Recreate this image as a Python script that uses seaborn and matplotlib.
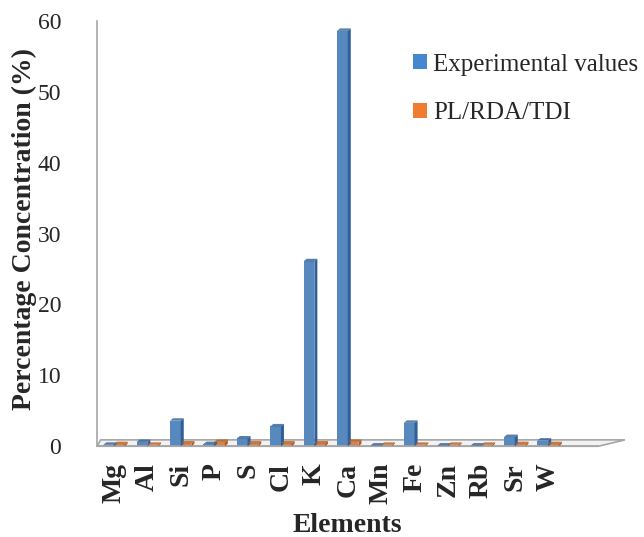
import numpy as np
import pandas as pd
import matplotlib
matplotlib.use("Agg")
import matplotlib.pyplot as plt
import seaborn as sns
from matplotlib.patches import Polygon, Patch

elements = ["Mg", "Al", "Si", "P", "S", "Cl", "K", "Ca", "Mn", "Fe", "Zn", "Rb", "Sr", "W", " "]
experimental = [0.2, 0.6, 3.6, 0.3, 1.1, 2.8, 26.1, 58.6, 0.1, 3.3, 0.1, 0.1, 1.3, 0.8, np.nan]
pl_rda_tdi = [0.3, 0.2, 0.4, 0.6, 0.4, 0.4, 0.4, 0.6, 0.2, 0.2, 0.2, 0.2, 0.3, 0.3, np.nan]
series_names = ["Experimental values", "PL/RDA/TDI"]
yticks = [0, 10, 20, 30, 40, 50, 60]

sns.set_style("white")
plt.rcParams["font.family"] = ["Liberation Serif", "DejaVu Serif"]

df = pd.DataFrame({
    "Element": elements * 2,
    "Value": experimental + pl_rda_tdi,
    "Series": [series_names[0]] * len(elements) + [series_names[1]] * len(elements),
})

colors = ["#4688d0", "#ee7d31"]
fig = plt.figure(figsize=(6.44, 5.37), dpi=100)
ax = fig.add_axes([0.151, 0.169, 0.778, 0.792])

sns.barplot(data=df, x="Element", y="Value", hue="Series", order=elements,
            palette=colors, width=0.64, ax=ax, legend=False,
            edgecolor="none", linewidth=0)

# 3D-like right faces
for bars, col in zip(ax.containers, ["#2e5f98", "#b85c1f"]):
    for b in bars:
        h = b.get_height()
        if np.isnan(h) or h <= 0:
            continue
        x0 = b.get_x() + b.get_width()
        ax.add_patch(Polygon([[x0, 0], [x0 + 0.09, 0.35], [x0 + 0.09, h + 0.35], [x0, h]],
                             closed=True, facecolor=col, edgecolor="none", zorder=3))
        ax.add_patch(Polygon([[b.get_x(), h], [b.get_x() + 0.09, h + 0.35], [x0 + 0.09, h + 0.35], [x0, h]],
                             closed=True, facecolor=col, edgecolor="none", alpha=0.8, zorder=3))

# floor
n = len(elements)
ax.add_patch(Polygon([[-0.5, 0], [n - 0.5, 0], [n + 0.3, 0.9], [-0.4, 0.9]], closed=True,
                     facecolor="#f2f2f2", edgecolor="#a6a6a6", lw=1.2, zorder=0.5, clip_on=False))

ax.set_xlim(-0.5, n - 0.5)
ax.set_ylim(0, 60)
ax.set_yticks(yticks)
ax.set_xticks(np.arange(n))
ax.set_xticks(np.arange(-0.5, n, 1.0), minor=True)
ax.tick_params(axis="x", which="major", length=0, pad=12)
ax.tick_params(axis="x", which="minor", length=7, color="#a6a6a6", width=1.2)
ax.tick_params(axis="y", length=4, color="#a6a6a6", width=1.2, labelsize=17, pad=22)
ax.set_xticklabels(elements, rotation=90, fontsize=20, fontweight="bold")

for side in ["top", "right"]:
    ax.spines[side].set_visible(False)
for side in ["left", "bottom"]:
    ax.spines[side].set_color("#a6a6a6")
    ax.spines[side].set_linewidth(1.2)

ax.set_xlabel("Elements", fontsize=20, fontweight="bold", labelpad=6)
ax.set_ylabel("Percentage Concentration (%)", fontsize=20, fontweight="bold")
ax.yaxis.set_label_coords(-0.12, 0.51)

handles = [Patch(facecolor=c, edgecolor="none") for c in colors]
fig.legend(handles, series_names, loc="upper left", bbox_to_anchor=(0.607, 0.942),
           frameon=False, fontsize=18, handlelength=0.55, handleheight=0.55,
           handletextpad=0.25, labelspacing=1.05)

fig.savefig("out.png", dpi=100)
